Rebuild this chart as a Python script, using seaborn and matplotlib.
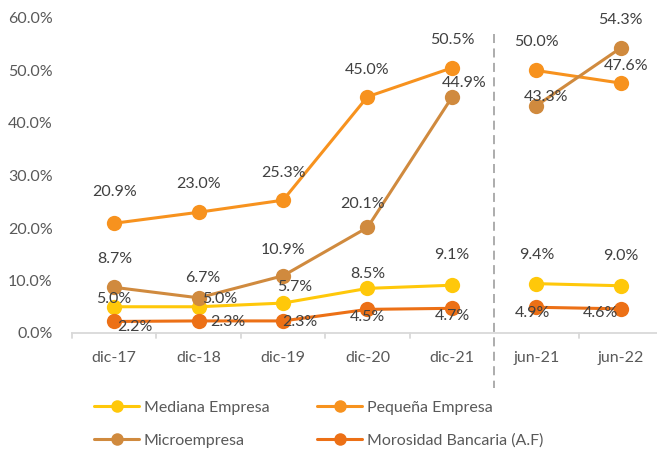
import matplotlib
matplotlib.use("Agg")
import matplotlib.pyplot as plt
import seaborn as sns
import pandas as pd
import numpy as np

periods = ["dic-17", "dic-18", "dic-19", "dic-20", "dic-21", "jun-21", "jun-22"]
mediana = [5.0, 5.0, 5.7, 8.5, 9.1, 9.4, 9.0]
pequena = [20.9, 23.0, 25.3, 45.0, 50.5, 50.0, 47.6]
micro = [8.7, 6.7, 10.9, 20.1, 44.9, 43.3, 54.3]
morosidad = [2.2, 2.3, 2.3, 4.5, 4.7, 4.9, 4.6]
series_names = ["Mediana Empresa", "Pequeña Empresa", "Microempresa", "Morosidad Bancaria (A.F)"]

sns.set_theme(style="white")
plt.rcParams["font.family"] = ["Lato", "DejaVu Sans"]

colors = {
    "Mediana Empresa": "#FFC80A",
    "Pequeña Empresa": "#F7921E",
    "Microempresa": "#D08A3E",
    "Morosidad Bancaria (A.F)": "#EC7016",
}
values = {
    "Mediana Empresa": mediana,
    "Pequeña Empresa": pequena,
    "Microempresa": micro,
    "Morosidad Bancaria (A.F)": morosidad,
}
# label offsets in pixels (dx, dy)
offsets = {
    "Mediana Empresa": [(0, 8), (21, 8), (12, 16), (0, 14), (0, 30), (0, 29), (0, 30)],
    "Pequeña Empresa": [(0, 31), (0, 28), (0, 27), (0, 27), (0, 28), (0, 28), (5, 17)],
    "Microempresa": [(1, 28), (4, 20), (0, 26), (-5, 23), (12, 14), (10, 9), (0, 28)],
    "Morosidad Bancaria (A.F)": [(21, -6), (29, -1), (17, -1), (0, -8), (0, -8), (-4, -6), (-20, -4)],
}

rows = []
for name in series_names:
    for i, (p, v) in enumerate(zip(periods, values[name])):
        rows.append({"pos": i, "period": p, "serie": name, "valor": v, "tramo": 0 if i < 5 else 1})
df = pd.DataFrame(rows)

W, H = 657, 451
fig = plt.figure(figsize=(W / 100, H / 100), dpi=100)
left, right = 72, 663
bottom_px, top_px = 333, 18
ax = fig.add_axes([left / W, (H - bottom_px) / H, (right - left) / W, (bottom_px - top_px) / H])

for name in series_names:
    for seg in (0, 1):
        sub = df[(df.serie == name) & (df.tramo == seg)]
        sns.lineplot(data=sub, x="pos", y="valor", ax=ax, color=colors[name], lw=2.2,
                     marker="o", markersize=11, markeredgewidth=0, legend=False,
                     label=name if seg == 0 else None)

fs = 11.5
txtc = "#404040"
for name in series_names:
    for i, v in enumerate(values[name]):
        dx, dy = offsets[name][i]
        ax.annotate(f"{v:.1f}%", (i, v), xytext=(dx, dy), textcoords="offset pixels",
                    ha="center", va="center", fontsize=fs, color=txtc, zorder=5)

ax.set_xlim(-0.5, 6.5)
ax.set_ylim(0, 60)
ax.set_yticks(np.arange(0, 61, 10))
ax.set_yticklabels([f"{t:.1f}%" for t in np.arange(0, 61, 10)], fontsize=fs, color="#595959")
ax.set_xticks(range(7))
ax.set_xticklabels(periods, fontsize=fs, color="#595959")
ax.tick_params(axis="x", length=0, pad=13)
ax.tick_params(axis="y", length=0, pad=14)
for s in ["top", "right", "left"]:
    ax.spines[s].set_visible(False)
ax.spines["bottom"].set_color("#D9D9D9")
ax.spines["bottom"].set_linewidth(1.3)
ax.set_xlabel("")
ax.set_ylabel("")
# category boundary ticks
for b in np.arange(-0.5, 6.6, 1.0):
    if abs(b - 4.5) < 1e-6:
        continue
    ax.plot([b, b], [0, -1.0], color="#D9D9D9", lw=1.3, clip_on=False)
# dashed separator
ax.plot([4.5, 4.5], [57, -10.5], color="#A6A6A6", lw=1.3, ls=(0, (5, 3)), clip_on=False)

handles, labels = ax.get_legend_handles_labels()
hmap = dict(zip(labels, handles))
order = ["Mediana Empresa", "Microempresa", "Pequeña Empresa", "Morosidad Bancaria (A.F)"]
leg = fig.legend([hmap[o] for o in order], order, loc="upper left",
                 bbox_to_anchor=(80 / W, 1 - 386 / H),
                 ncol=2, frameon=False, fontsize=fs, handlelength=2.8, columnspacing=3.0,
                 labelspacing=1.2, handletextpad=0.3)
for t in leg.get_texts():
    t.set_color("#595959")
for h in leg.legend_handles:
    h.set_markersize(9)

fig.savefig("out.png", dpi=100)
